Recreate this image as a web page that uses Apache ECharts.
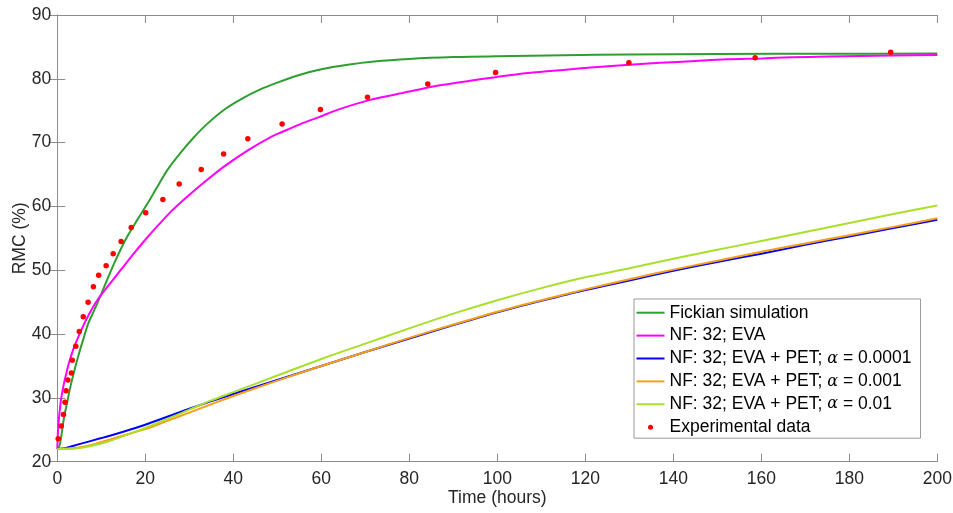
<!DOCTYPE html>
<html>
<head>
<meta charset="utf-8">
<script src="https://cdn.jsdelivr.net/npm/echarts@6/dist/echarts.min.js"></script>
<style>html,body{margin:0;padding:0;background:#fff}#c{width:953px;height:513px}</style>
</head>
<body>
<div id="c"></div>
<script>
// ---- data ----
var seriesNames = ['Fickian simulation', 'NF: 32; EVA', 'NF: 32; EVA + PET; α = 0.0001', 'NF: 32; EVA + PET; α = 0.001', 'NF: 32; EVA + PET; α = 0.01', 'Experimental data'];

var fickT = [0, 0.5, 1, 1.5, 2, 3, 4, 5, 6, 7, 8.5, 10, 11.5, 13, 14.5, 16, 18, 20, 22.5, 25, 28, 31, 34, 38, 42, 46, 50, 55, 60, 66, 72, 80, 90, 100, 115, 130, 150, 175, 200];
var fickV = [22.0, 22.5, 24.4, 26.8, 28.5, 31.8, 34.6, 37.1, 39.4, 41.6, 43.9, 46.3, 48.8, 51.2, 53.4, 55.4, 57.7, 59.9, 62.8, 65.7, 68.4, 70.8, 72.9, 75.2, 76.9, 78.3, 79.4, 80.6, 81.5, 82.2, 82.7, 83.1, 83.4, 83.55, 83.7, 83.8, 83.88, 83.93, 83.95];

var evaT = [0, 0.1, 0.25, 0.4, 0.6, 0.8, 1.1, 1.4, 2, 2.5, 3.2, 4, 5, 6.3, 8, 9.7, 11.5, 13, 14.6, 17, 19.9, 23, 26, 29, 32.7, 37.8, 43.3, 48.3, 51.2, 55.9, 59.5, 63.5, 71.1, 78.7, 86.3, 93.8, 100, 107, 115, 122, 130, 137, 145, 152, 160, 167, 175, 182.4, 190, 200];
var evaV = [22.0, 24.0, 25.8, 27.0, 28.3, 29.5, 30.8, 31.9, 33.7, 35.1, 36.7, 38.3, 39.9, 41.9, 44.1, 45.9, 47.5, 48.8, 50.2, 52.3, 54.7, 57.1, 59.3, 61.2, 63.4, 66.2, 68.8, 70.8, 71.7, 73.1, 74.0, 75.1, 76.7, 77.8, 78.9, 79.7, 80.3, 80.9, 81.4, 81.8, 82.2, 82.5, 82.8, 83.05, 83.2, 83.37, 83.48, 83.57, 83.65, 83.73];

var a1T = [0, 2, 5, 10, 15, 20, 25, 30, 35, 40, 50, 60, 70, 80, 90, 100, 110, 120, 130, 140, 150, 160, 170, 180, 190, 200];
var a1V = [22.0, 22.15, 22.75, 23.7, 24.7, 25.8, 27.05, 28.3, 29.5, 30.6, 32.8, 35.0, 37.2, 39.3, 41.4, 43.4, 45.2, 46.9, 48.4, 49.9, 51.3, 52.6, 54.0, 55.3, 56.6, 57.9];

var a2T = [0, 3, 7, 10, 15, 20, 25, 30, 35, 40, 50, 60, 70, 80, 90, 100, 110, 120, 130, 140, 150, 160, 170, 180, 190, 200];
var a2V = [22.0, 22.05, 22.5, 23.1, 24.1, 25.1, 26.4, 27.7, 29.0, 30.3, 32.7, 35.0, 37.2, 39.4, 41.5, 43.5, 45.3, 47.0, 48.6, 50.1, 51.5, 52.9, 54.2, 55.5, 56.8, 58.15];

var a3T = [0, 3, 5.5, 10, 15, 20, 25, 30, 35, 40, 50, 60, 70, 80, 90, 100, 110, 120, 130, 140, 150, 160, 170, 180, 190, 200];
var a3V = [22.0, 22.05, 22.2, 22.85, 24.0, 25.3, 26.7, 28.15, 29.6, 30.9, 33.5, 36.1, 38.5, 40.9, 43.2, 45.3, 47.2, 48.9, 50.3, 51.8, 53.2, 54.6, 56.0, 57.4, 58.8, 60.15];

var expT = [0.2, 0.9, 1.4, 1.75, 2.0, 2.4, 3.2, 3.4, 4.2, 5.0, 5.9, 7.0, 8.2, 9.4, 11.1, 12.7, 14.5, 16.8, 20.1, 24.0, 27.7, 32.7, 37.8, 43.3, 51.1, 59.8, 70.5, 84.2, 99.6, 129.9, 158.6, 189.4];
var expV = [23.6, 25.6, 27.4, 29.3, 31.1, 32.8, 33.9, 35.9, 38.1, 40.4, 42.7, 45.0, 47.4, 49.2, 50.7, 52.6, 54.5, 56.7, 59.0, 61.1, 63.5, 65.8, 68.2, 70.6, 72.9, 75.2, 77.1, 79.2, 81.0, 82.5, 83.3, 84.15];

var xTicks = [0, 20, 40, 60, 80, 100, 120, 140, 160, 180, 200];
var yTicks = [20, 30, 40, 50, 60, 70, 80, 90];

// ---- chart ----
function pairs(t, v) { return t.map(function (x, i) { return [x, v[i]]; }); }
var FONT = 'Liberation Sans, Arial, Helvetica, sans-serif';
var TXT = '#262626';
var AX = '#8c8c8c';
var colors = ['#2E9E2E', '#FF00FF', '#0000FF', '#F5A016', '#A8E02A', '#FF0000'];

function lineSeries(i, t, v) {
  return {
    name: seriesNames[i], type: 'line', data: pairs(t, v),
    symbol: 'none', showSymbol: false, smooth: 0.3,
    lineStyle: { color: colors[i], width: 2 }, itemStyle: { color: colors[i] },
    z: 2 + i, animation: false
  };
}

var axisCommon = {
  axisLine: { show: true, lineStyle: { color: AX, width: 1 } },
  axisTick: { show: true, inside: true, length: 8, lineStyle: { color: AX } },
  splitLine: { show: false }
};

var LINE_ICON = 'path://M0,0 L28,0 L28,2 L0,2 Z';
var legendData = seriesNames.map(function (n, i) {
  return i < 5 ? { name: n, icon: LINE_ICON, itemStyle: { color: colors[i] } } : { name: n, icon: 'circle', itemStyle: { color: colors[i] } };
});

var chart = echarts.init(document.getElementById('c'), null, { renderer: 'canvas' });
chart.setOption({
  animation: false,
  backgroundColor: '#fff',
  textStyle: { fontFamily: FONT },
  grid: { left: 57.3, right: 15.7, top: 15, bottom: 51.3, containLabel: false, outerBoundsMode: 'none' },
  xAxis: [
    Object.assign({
      type: 'value', min: xTicks[0], max: xTicks[xTicks.length - 1], interval: xTicks[1] - xTicks[0],
      name: 'Time (hours)', nameLocation: 'middle', nameGap: 27, nameMoveOverlap: false,
      nameTextStyle: { color: TXT, fontSize: 17.5, fontFamily: FONT },
      axisLabel: { color: TXT, fontSize: 17.5, fontFamily: FONT, margin: 8 }
    }, axisCommon),
    Object.assign({
      type: 'value', position: 'top', min: xTicks[0], max: xTicks[xTicks.length - 1], interval: xTicks[1] - xTicks[0],
      axisLabel: { show: false }
    }, axisCommon)
  ],
  yAxis: [
    Object.assign({
      type: 'value', min: yTicks[0], max: yTicks[yTicks.length - 1], interval: yTicks[1] - yTicks[0],
      name: 'RMC (%)', nameLocation: 'middle', nameGap: 28, nameRotate: 90, nameMoveOverlap: false,
      nameTextStyle: { color: TXT, fontSize: 17.5, fontFamily: FONT },
      axisLabel: { color: TXT, fontSize: 17.5, fontFamily: FONT, margin: 6 }
    }, axisCommon),
    Object.assign({
      type: 'value', position: 'right', min: yTicks[0], max: yTicks[yTicks.length - 1], interval: yTicks[1] - yTicks[0],
      axisLabel: { show: false }
    }, axisCommon)
  ],
  legend: {
    orient: 'vertical', left: 634, top: 299,
    padding: [4.7, 9, 2, 2.5],
    itemWidth: 28, itemHeight: 5, itemGap: 4.9,
    backgroundColor: '#fff', borderColor: '#9a9a9a', borderWidth: 1,
    data: legendData,
    textStyle: {
      color: '#000', fontSize: 17.5, fontFamily: FONT, lineHeight: 18,
      rich: { a: { fontFamily: 'DejaVu Serif, serif', fontStyle: 'italic', fontSize: 16, color: '#000', lineHeight: 18 } }
    },
    formatter: function (name) { return name.replace('α', '{a|α}'); }
  },
  series: [
    lineSeries(0, fickT, fickV),
    lineSeries(1, evaT, evaV),
    lineSeries(2, a1T, a1V),
    lineSeries(3, a2T, a2V),
    lineSeries(4, a3T, a3V),
    {
      name: seriesNames[5], type: 'scatter', data: pairs(expT, expV),
      symbol: 'circle', symbolSize: 5.5, itemStyle: { color: colors[5], opacity: 1 }, z: 10, animation: false
    }
  ]
});
</script>
</body>
</html>
